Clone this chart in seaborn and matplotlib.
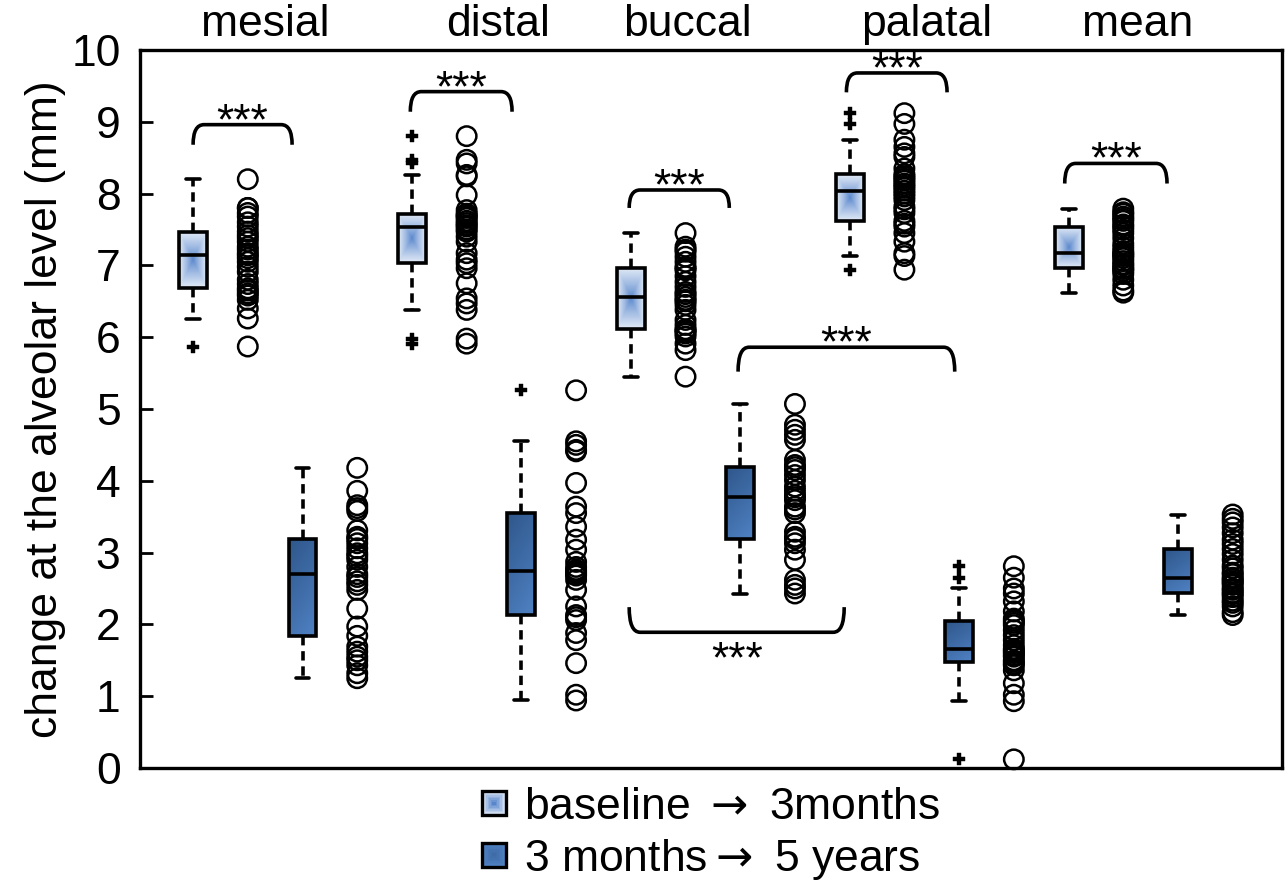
import numpy as np
import pandas as pd
import matplotlib
matplotlib.use("Agg")
import matplotlib.pyplot as plt
import matplotlib.transforms as mtransforms
import seaborn as sns
from matplotlib.path import Path
from matplotlib.patches import PathPatch, Rectangle, Patch
from matplotlib.legend_handler import HandlerBase

# ---------------- data ----------------
sites = ["mesial", "distal", "buccal", "palatal", "mean"]
periods = ["baseline $\\rightarrow$ 3months", "3 months$\\rightarrow$ 5 years"]

mesial_base = [5.87, 6.26, 6.40, 6.52, 6.58, 6.61, 6.65, 6.68, 6.74, 6.80, 6.91, 6.98, 7.05, 7.10, 7.14,
               7.17, 7.22, 7.26, 7.33, 7.38, 7.42, 7.47, 7.54, 7.60, 7.68, 7.73, 7.80, 7.80, 8.20]
mesial_late = [1.25, 1.32, 1.43, 1.50, 1.55, 1.62, 1.69, 1.84, 1.97, 2.22, 2.48, 2.55, 2.60, 2.66, 2.70,
               2.80, 2.90, 2.95, 2.99, 3.06, 3.13, 3.19, 3.22, 3.31, 3.58, 3.62, 3.66, 3.86, 4.18]
distal_base = [5.91, 5.98, 6.38, 6.47, 6.54, 6.75, 6.96, 7.03, 7.08, 7.17, 7.33, 7.40, 7.47, 7.50, 7.54,
               7.56, 7.59, 7.62, 7.66, 7.68, 7.70, 7.72, 7.77, 7.98, 8.24, 8.26, 8.42, 8.47, 8.80]
distal_late = [0.94, 1.02, 1.46, 1.78, 1.88, 2.06, 2.10, 2.13, 2.25, 2.48, 2.62, 2.68, 2.70, 2.72, 2.74,
               2.76, 2.80, 2.87, 3.04, 3.18, 3.36, 3.55, 3.64, 3.97, 4.41, 4.43, 4.50, 4.55, 5.26]
buccal_base = [5.45, 5.82, 5.91, 6.01, 6.05, 6.08, 6.10, 6.11, 6.17, 6.24, 6.38, 6.45, 6.50, 6.52, 6.56,
               6.60, 6.63, 6.70, 6.77, 6.85, 6.93, 6.96, 6.98, 7.05, 7.12, 7.19, 7.22, 7.26, 7.45]
buccal_late = [2.43, 2.50, 2.55, 2.62, 2.90, 3.04, 3.13, 3.19, 3.22, 3.29, 3.55, 3.60, 3.64, 3.73, 3.77,
               3.80, 3.86, 3.92, 4.01, 4.08, 4.15, 4.19, 4.22, 4.29, 4.57, 4.64, 4.71, 4.78, 5.07]
palatal_base = [6.94, 7.13, 7.17, 7.33, 7.45, 7.54, 7.58, 7.62, 7.73, 7.78, 7.82, 7.91, 7.96, 8.00, 8.04,
                8.08, 8.11, 8.14, 8.18, 8.21, 8.24, 8.27, 8.35, 8.51, 8.56, 8.65, 8.75, 8.97, 9.12]
palatal_late = [0.12, 0.93, 1.02, 1.18, 1.36, 1.43, 1.45, 1.48, 1.50, 1.55, 1.57, 1.60, 1.62, 1.64, 1.66,
                1.71, 1.78, 1.85, 1.92, 1.99, 2.02, 2.05, 2.08, 2.18, 2.32, 2.43, 2.50, 2.65, 2.81]
mean_base = [6.62, 6.65, 6.72, 6.80, 6.88, 6.92, 6.95, 6.96, 7.00, 7.02, 7.06, 7.10, 7.13, 7.15, 7.17,
             7.20, 7.25, 7.30, 7.38, 7.45, 7.50, 7.54, 7.57, 7.62, 7.65, 7.68, 7.72, 7.74, 7.79]
mean_late = [2.13, 2.17, 2.25, 2.30, 2.33, 2.38, 2.42, 2.44, 2.48, 2.50, 2.55, 2.58, 2.60, 2.63, 2.65,
             2.70, 2.72, 2.78, 2.82, 2.90, 2.98, 3.05, 3.12, 3.18, 3.27, 3.35, 3.42, 3.47, 3.53]

series = [
    (mesial_base, mesial_late),
    (distal_base, distal_late),
    (buccal_base, buccal_late),
    (palatal_base, palatal_late),
    (mean_base, mean_late),
]

# significance brackets: (x from, x to, y of bar, y of ends) in slot/data units
brackets = [
    (0.0, 1.81, 8.96, 8.68),
    (3.97, 5.83, 9.42, 9.14),
    (7.97, 9.80, 8.05, 7.80),
    (11.94, 13.78, 9.68, 9.41),
    (15.93, 17.80, 8.42, 8.14),
    (9.96, 13.92, 5.86, 5.52),
    (7.97, 11.90, 1.89, 2.24),
]
heading_x = [1.32, 5.57, 9.03, 13.41, 17.27]

# ---------------- frame ----------------
rows_box, rows_pts = [], []
for i, pair in enumerate(series):
    for p, vals in enumerate(pair):
        for v in vals:
            rows_box.append({"slot": str(4 * i + 2 * p), "value": v, "period": p})
            rows_pts.append({"slot": str(4 * i + 2 * p + 1), "value": v, "period": p})
df_box = pd.DataFrame(rows_box)
df_pts = pd.DataFrame(rows_pts)
order = [str(k) for k in range(20)]

sns.set_theme(style="white")
plt.rcParams["font.family"] = ["Liberation Sans", "DejaVu Sans"]
plt.rcParams["mathtext.fontset"] = "dejavusans"
for key in ["text.color", "axes.labelcolor", "xtick.color", "ytick.color", "axes.edgecolor"]:
    plt.rcParams[key] = "black"

FS = 32
LW = 2.6
fig = plt.figure(figsize=(12.88, 8.8), dpi=100)
ax = fig.add_axes([0.1087, 0.1273, 0.8866, 0.8159])

box_kws = dict(order=order, width=0.51, whis=0.97, linewidth=LW, linecolor="black",
               flierprops=dict(marker="P", markerfacecolor="black", markeredgecolor="black",
                               markersize=8, markeredgewidth=0.3),
               whiskerprops=dict(linestyle=(0, (2.6, 1.6)), linewidth=LW),
               ax=ax)

n0 = len(ax.patches)
sns.boxplot(data=df_box[df_box.period == 0], x="slot", y="value",
            color="#b8cbe8", **box_kws)
light_patches = list(ax.patches[n0:])
n1 = len(ax.patches)
sns.boxplot(data=df_box[df_box.period == 1], x="slot", y="value",
            color="#3f6fae", **box_kws)
dark_patches = list(ax.patches[n1:])

nc = len(ax.collections)
sns.stripplot(data=df_pts, x="slot", y="value", order=order, jitter=False,
              size=14, color="black", linewidth=1.8, edgecolor="black", ax=ax, zorder=3)
for coll in ax.collections[nc:]:
    offs = np.asarray(coll.get_offsets())
    if offs.size == 0 or not np.all(np.isfinite(offs)):
        coll.set_visible(False)
        continue
    coll.set_facecolor("none")
    coll.set_edgecolor("black")
    coll.set_linewidth(1.8)
    coll.set_clip_on(False)

ax.set_xlim(-0.97, 19.9)
ax.set_ylim(0, 10)
ax.set_yticks(range(0, 11))
ax.set_xticks([])
ax.set_xlabel("")
ax.set_ylabel("change at the alveolar level (mm)", fontsize=FS, labelpad=4)
ax.tick_params(axis="y", direction="in", length=9, width=2, labelsize=FS, pad=14, left=True)
for s in ax.spines.values():
    s.set_visible(True)
    s.set_color("black")
    s.set_linewidth(2.4)

# ---------------- gradients ----------------
LIGHT_C = np.array([88, 134, 204]) / 255
LIGHT_E = np.array([228, 236, 247]) / 255
DARK_T = np.array([46, 86, 138]) / 255
DARK_B = np.array([80, 130, 196]) / 255


def grad_img(kind, n=64):
    xs = (np.arange(n) + 0.5) / n
    X, Y = np.meshgrid(xs, xs)  # Y: 0 bottom, 1 top (origin lower)
    if kind == "light":
        t = np.maximum(np.abs(X * 2 - 1), np.abs(Y * 2 - 1)) ** 0.85
        img = LIGHT_C[None, None, :] * (1 - t[..., None]) + LIGHT_E[None, None, :] * t[..., None]
    else:
        t = np.clip(0.3 * X + 0.7 * (1 - Y), 0, 1)
        img = DARK_T[None, None, :] * (1 - t[..., None]) + DARK_B[None, None, :] * t[..., None]
    return img


def fill_gradient(patch, kind):
    verts = patch.get_transform().transform(patch.get_path().vertices)
    dv = ax.transData.inverted().transform(verts)
    x0, x1 = dv[:, 0].min(), dv[:, 0].max()
    y0, y1 = dv[:, 1].min(), dv[:, 1].max()
    im = ax.imshow(grad_img(kind), extent=(x0, x1, y0, y1), origin="lower",
                   aspect="auto", interpolation="bilinear",
                   zorder=patch.get_zorder() - 0.01)
    im.set_clip_path(patch)
    patch.set_facecolor("none")


for p in light_patches:
    fill_gradient(p, "light")
for p in dark_patches:
    fill_gradient(p, "dark")
ax.set_xlim(-0.97, 19.9)
ax.set_ylim(0, 10)

# ---------------- headings ----------------
trans = mtransforms.blended_transform_factory(ax.transData, ax.transAxes)
for name, hx in zip(sites, heading_x):
    ax.text(hx, 1.036, name, transform=trans, ha="center", va="center", fontsize=FS)

# ---------------- brackets ----------------
for xa, xb, ybar, yend in brackets:
    rx = 0.2
    verts = [(xa, yend), (xa, ybar), (xa + rx, ybar), (xb - rx, ybar), (xb, ybar), (xb, yend)]
    codes = [Path.MOVETO, Path.CURVE3, Path.CURVE3, Path.LINETO, Path.CURVE3, Path.CURVE3]
    ax.add_patch(PathPatch(Path(verts, codes), facecolor="none", edgecolor="black",
                           linewidth=LW, zorder=4, clip_on=False))
    xm = (xa + xb) / 2
    if yend < ybar:
        ax.text(xm, ybar - 0.13, "***", ha="center", va="baseline", fontsize=FS, zorder=5)
    else:
        ax.text(xm, ybar - 0.56, "***", ha="center", va="baseline", fontsize=FS, zorder=5)


# ---------------- legend ----------------
class GradHandler(HandlerBase):
    def __init__(self, kind):
        super().__init__()
        self.kind = kind

    def create_artists(self, legend, orig_handle, xdescent, ydescent, width, height, fontsize, trans):
        s = min(width, height)
        x0 = -xdescent + (width - s) / 2
        y0 = -ydescent + (height - s) / 2
        arts = []
        n = 8
        for k in range(n):
            inset = (k / n) * s / 2
            f = k / (n - 1)
            if self.kind == "light":
                col = LIGHT_E * (1 - f) + LIGHT_C * f
            else:
                col = DARK_B * (1 - f * 0.5) + DARK_T * (f * 0.5)
            arts.append(Rectangle((x0 + inset, y0 + inset), s - 2 * inset, s - 2 * inset,
                                  facecolor=col, edgecolor="none", transform=trans))
        arts.append(Rectangle((x0, y0), s, s, facecolor="none", edgecolor="black",
                              linewidth=2.4, transform=trans))
        return arts


h_light = Patch(facecolor="#b8cbe8")
h_dark = Patch(facecolor="#3f6fae")
fig.legend([h_light, h_dark], periods, loc="center", bbox_to_anchor=(0.552, 0.052),
           frameon=False, fontsize=FS, handlelength=0.55, handleheight=0.55,
           handletextpad=0.4, labelspacing=0.2, borderaxespad=0, borderpad=0,
           handler_map={h_light: GradHandler("light"), h_dark: GradHandler("dark")})

fig.savefig("out.png", dpi=100)
